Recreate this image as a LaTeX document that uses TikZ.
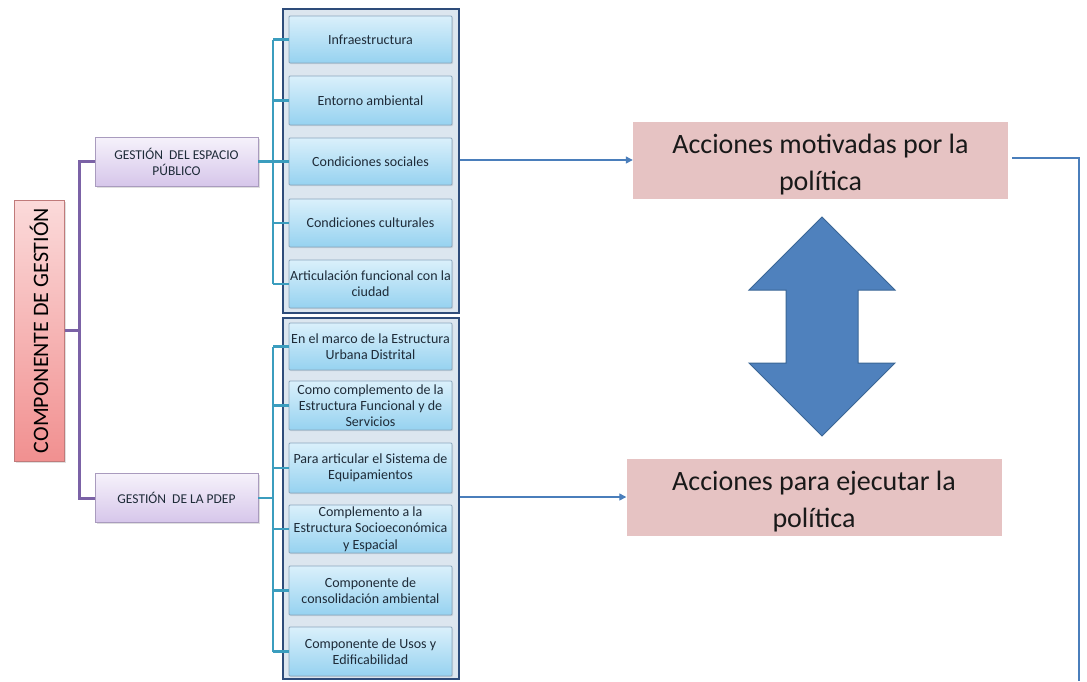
\documentclass[tikz,border=0pt]{standalone}
\usepackage{fontspec}
\setmainfont{Carlito}
\usetikzlibrary{arrows.meta,shadows}
\definecolor{purpline}{HTML}{7B62A6}
\definecolor{tealline}{HTML}{3B9DBE}
\definecolor{contborder}{HTML}{2E4C7A}
\definecolor{contfill}{HTML}{DCE6EF}
\definecolor{itemtop}{HTML}{DAF0FB}
\definecolor{itembot}{HTML}{96D2F0}
\definecolor{itemborder}{HTML}{8AA6BD}
\definecolor{pinkbox}{HTML}{E6C3C3}
\definecolor{bluearrow}{HTML}{4F81BD}
\definecolor{bluearrowb}{HTML}{3A6696}
\definecolor{linkblue}{HTML}{4A7EBB}
\definecolor{comptop}{HTML}{FBDADA}
\definecolor{compbot}{HTML}{F19090}
\definecolor{compborder}{HTML}{C07A7A}
\definecolor{gtop}{HTML}{F6F2FB}
\definecolor{gbot}{HTML}{D6C6EA}
\definecolor{gborder}{HTML}{A99BBE}
\definecolor{itemtext}{HTML}{1E2B38}
\tikzset{
  compbox/.style={draw=compborder, line width=1pt, top color=comptop, bottom color=compbot,
    minimum width=50pt, minimum height=261pt, inner sep=0pt,
    drop shadow={opacity=0.25, shadow xshift=1.5pt, shadow yshift=-1.5pt}},
  gbox/.style={draw=gborder, line width=0.8pt, top color=gtop, bottom color=gbot,
    minimum width=163pt, minimum height=49pt, align=center, inner sep=1pt,
    text=itemtext, font=\fontsize{13.5}{16}\selectfont,
    drop shadow={opacity=0.25, shadow xshift=1.5pt, shadow yshift=-1.5pt}},
  container/.style={draw=contborder, line width=2.5pt, fill=contfill},
  itembox/.style={draw=itemborder, line width=0.8pt, top color=itemtop, bottom color=itembot,
    rounded corners=1pt, minimum width=163pt, align=center, inner sep=0pt,
    text=itemtext, font=\fontsize{14}{16.3}\selectfont,
    drop shadow={opacity=0.2, shadow xshift=1pt, shadow yshift=-1pt}},
  actbox/.style={fill=pinkbox, minimum width=375pt, minimum height=77pt, inner sep=0pt},
  acttext/.style={align=center, font=\fontsize{28}{37}\selectfont, text=black!90, inner sep=0pt},
  purp/.style={draw=purpline, line width=3pt},
  tl/.style={draw=tealline, line width=2.6pt},
  link/.style={draw=linkblue, line width=1.3pt},
}
\begin{document}
\begin{tikzpicture}[x=1pt,y=-1pt]
\useasboundingbox (0,0) rectangle (1087,681);
\fill[white] (0,0) rectangle (1087,681);

% left component
\node[compbox] (comp) at (39,330.5) {\rotatebox{90}{\fontsize{22}{26}\selectfont COMPONENTE DE GESTIÓN}};
\node[gbox] (gep) at (176.5,161.5) {GESTIÓN \ DEL ESPACIO\\PÚBLICO};
\node[gbox] (gpd) at (176.5,498) {GESTIÓN \ DE LA PDEP};

\coordinate (pj) at (79,330.5);
\draw[purp] (comp.east) -- (pj);
\draw[purp] (gep.west) -| (pj) |- (gpd.west);

% containers
\node[container, minimum width=176pt, minimum height=304pt, inner sep=0pt] (ucont) at (371,161) {};
\node[container, minimum width=176pt, minimum height=361pt, inner sep=0pt] (lcont) at (371,498.5) {};

% items upper
\node[itembox, minimum height=47pt] (u1) at (370.5,39.5) {Infraestructura};
\node[itembox, minimum height=49pt] (u2) at (370.5,100.5) {Entorno ambiental};
\node[itembox, minimum height=47pt] (u3) at (370.5,161.5) {Condiciones sociales};
\node[itembox, minimum height=48pt] (u4) at (370.5,223) {Condiciones culturales};
\node[itembox, minimum height=48pt] (u5) at (370.5,284) {Articulación funcional con la\\ciudad};

% items lower
\node[itembox, minimum height=47pt] (l1) at (370.5,346.5) {En el marco de la Estructura\\Urbana Distrital};
\node[itembox, minimum height=49pt] (l2) at (370.5,405.5) {Como complemento de la\\Estructura Funcional y de\\Servicios};
\node[itembox, minimum height=50pt] (l3) at (370.5,468) {Para articular el Sistema de\\Equipamientos};
\node[itembox, minimum height=48pt] (l4) at (370.5,529) {Complemento a la\\Estructura Socioeconómica\\y Espacial};
\node[itembox, minimum height=49pt] (l5) at (370.5,590.5) {Componente de\\consolidación ambiental};
\node[itembox, minimum height=49pt] (l6) at (370.5,651.5) {Componente de Usos y\\Edificabilidad};

% teal tree upper
\coordinate (tu) at (273,161.5);
\draw[tl] (gep.east) -- (tu);
\draw[tl] (u1.west -| tu) -- (u5.west -| tu);
\foreach \n in {u1,u2,u3,u4,u5} { \draw[tl] (\n.west -| tu) -- (\n.west); }
% teal tree lower
\coordinate (tlj) at (273,498);
\draw[tl] (gpd.east) -- (tlj);
\draw[tl] (l1.west -| tlj) -- (l6.west -| tlj);
\foreach \n in {l1,l2,l3,l4,l5,l6} { \draw[tl] (\n.west -| tlj) -- (\n.west); }

% action boxes
\node[actbox] (am) at (820.5,160) {};
\node[acttext] (amt) at ([yshift=-5pt]am.center) {Acciones motivadas por la\\política};
\node[actbox] (ae) at (814,497) {};
\node[acttext] (aet) at ([yshift=-5pt]ae.center) {Acciones para ejecutar la\\política};

\draw[link, -{Triangle[length=7pt,width=7pt]}] (ucont.east |- am.west) -- (am.west);
\draw[link, -{Triangle[length=7pt,width=7pt]}] (lcont.east |- ae.west) -- (ae.west);

\coordinate (rb) at (1079,681);
\draw[link, line width=1.6pt] ([xshift=4pt,yshift=2pt]am.east) -| (rb);

% double arrow
\draw[fill=bluearrow, draw=bluearrowb, line width=1pt, line join=miter]
  (822,217) -- (895,290) -- (858,290) -- (858,363) -- (895,363) -- (822,436)
  -- (749,363) -- (786,363) -- (786,290) -- (749,290) -- cycle;
\end{tikzpicture}
\end{document}
